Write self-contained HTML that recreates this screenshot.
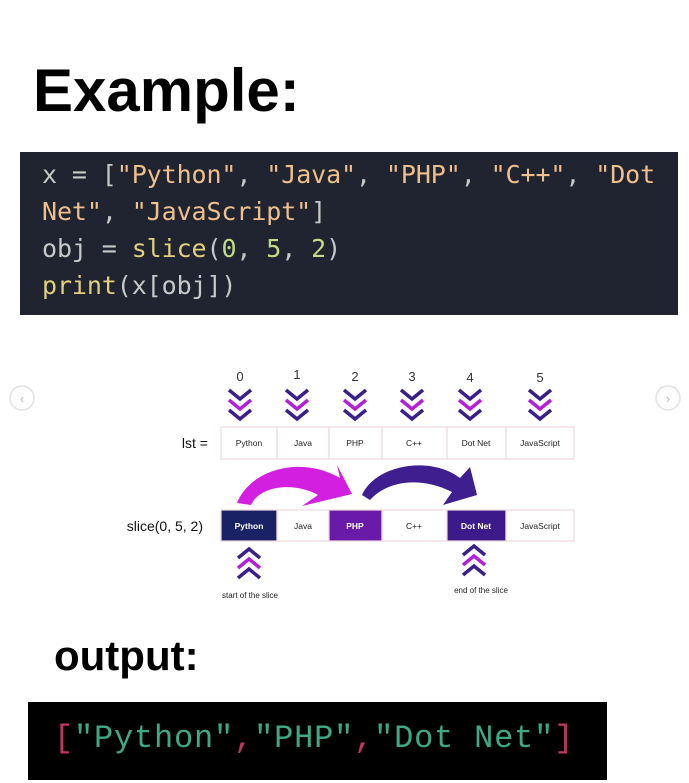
<!DOCTYPE html>
<html><head><meta charset="utf-8"><style>
body{margin:0;width:689px;height:783px;background:#fff;position:relative;overflow:hidden;font-family:"Liberation Sans",sans-serif}
.t1{position:absolute;left:33px;top:56px;font-size:60px;font-weight:bold;line-height:70px;color:#000}
.code{position:absolute;left:20px;top:152px;width:658px;height:163px;background:#1f2430;font-family:"DejaVu Sans Mono",monospace;font-size:25px;color:#d8d8d8}
.code div{position:absolute;left:22px;white-space:pre;line-height:30px;letter-spacing:-0.1px}
.s{color:#f0c08c}.n{color:#c0dd86}.f{color:#e3d07c}.p{color:#c8c8c8}
.t2{position:absolute;left:54px;top:632px;font-size:42px;font-weight:bold;line-height:48px;color:#000}
.out{position:absolute;left:28px;top:702px;width:579px;height:78px;background:#000;font-family:"Liberation Mono",monospace;font-size:32px}
.out div{position:absolute;left:26px;top:18px;white-space:pre;color:#3fa986;letter-spacing:0.8px}
.r{color:#c2355d}
</style></head><body>
<div class="t1">Example:</div>
<div class="code">
<div style="top:8px"><span class="p">x = [</span><span class="s">"Python"</span><span class="p">, </span><span class="s">"Java"</span><span class="p">, </span><span class="s">"PHP"</span><span class="p">, </span><span class="s">"C++"</span><span class="p">, </span><span class="s">"Dot</span></div>
<div style="top:45px"><span class="s">Net"</span><span class="p">, </span><span class="s">"JavaScript"</span><span class="p">]</span></div>
<div style="top:82px"><span class="p">obj = </span><span class="f">slice</span><span class="p">(</span><span class="n">0</span><span class="p">, </span><span class="n">5</span><span class="p">, </span><span class="n">2</span><span class="p">)</span></div>
<div style="top:119px"><span class="f">print</span><span class="p">(x[obj])</span></div>
</div>
<svg style="position:absolute;left:0;top:0" width="689" height="783">
<defs>
<g id="dn"><polyline points="-11,-15 0,-6 11,-15" fill="none" stroke="#3a1f8a" stroke-width="3.5"/><polyline points="-11,-5 0,4 11,-5" fill="none" stroke="#b31fd6" stroke-width="3.5"/><polyline points="-11,5 0,14 11,5" fill="none" stroke="#3a1f8a" stroke-width="3.5"/></g>
<g id="up"><polyline points="-11,15 0,6 11,15" fill="none" stroke="#3a1f8a" stroke-width="3.5"/><polyline points="-11,5 0,-4 11,5" fill="none" stroke="#b31fd6" stroke-width="3.5"/><polyline points="-11,-5 0,-14 11,-5" fill="none" stroke="#3a1f8a" stroke-width="3.5"/></g>
</defs>
<circle cx="22" cy="398" r="12" fill="#fff" stroke="#e2e2e2" stroke-width="1.5"/><text x="22" y="403" font-size="13" fill="#bbb" text-anchor="middle">‹</text>
<circle cx="668" cy="398" r="12" fill="#fff" stroke="#e2e2e2" stroke-width="1.5"/><text x="668" y="403" font-size="13" fill="#bbb" text-anchor="middle">›</text>
<g font-family="Liberation Sans" font-size="13" fill="#333" text-anchor="middle">
<text x="240" y="381">0</text><text x="297" y="379">1</text><text x="355" y="381">2</text><text x="412" y="381">3</text><text x="470" y="382">4</text><text x="540" y="382">5</text></g>
<use href="#dn" x="240" y="405"/><use href="#dn" x="297" y="405"/><use href="#dn" x="355" y="405"/><use href="#dn" x="412" y="405"/><use href="#dn" x="470" y="405"/><use href="#dn" x="540" y="405"/>
<g fill="#fff" stroke="#f0d8dc" stroke-width="1.2">
<rect x="221" y="427" width="56" height="32"/><rect x="277" y="427" width="52" height="32"/><rect x="329" y="427" width="53" height="32"/><rect x="382" y="427" width="65" height="32"/><rect x="447" y="427" width="59" height="32"/><rect x="506" y="427" width="68" height="32"/>
<rect x="221" y="510" width="56" height="31" fill="#1a2266"/><rect x="277" y="510" width="52" height="31"/><rect x="329" y="510" width="53" height="31" fill="#6a1aa8"/><rect x="382" y="510" width="65" height="31"/><rect x="447" y="510" width="59" height="31" fill="#3d1a8a"/><rect x="506" y="510" width="68" height="31"/></g>
<g font-family="Liberation Sans" font-size="8.5" fill="#222" text-anchor="middle">
<text x="249" y="446">Python</text><text x="303" y="446">Java</text><text x="355" y="446">PHP</text><text x="414" y="446">C++</text><text x="476" y="446">Dot Net</text><text x="540" y="446">JavaScript</text>
<text x="249" y="529" fill="#fff" font-weight="bold">Python</text><text x="303" y="529">Java</text><text x="355" y="529" fill="#fff" font-weight="bold">PHP</text><text x="414" y="529">C++</text><text x="476" y="529" fill="#fff" font-weight="bold">Dot Net</text><text x="540" y="529">JavaScript</text></g>
<text x="208" y="448" font-size="14" text-anchor="end" fill="#111">lst =</text>
<text x="203" y="531" font-size="14" text-anchor="end" fill="#111">slice(0, 5, 2)</text>
<path d="M237,503 C250,470 300,455 340,478 L337,465 L352,494 L302,506 L318,495 C295,482 260,485 251,505 Z" fill="#d21fe0"/>
<path d="M362,495 C375,465 430,455 460,478 L470,467 L477,495 L443,505 L452,492 C425,478 390,478 370,500 Z" fill="#3f1e8f"/>
<use href="#up" x="249" y="563"/><use href="#up" x="474" y="560"/>
<text x="250" y="598" font-size="8" text-anchor="middle" fill="#222">start of the slice</text>
<text x="481" y="593" font-size="8" text-anchor="middle" fill="#222">end of the slice</text>
</svg>
<div class="t2">output:</div>
<div class="out"><div><span class="r">[</span>"Python"<span class="r">,</span>"PHP"<span class="r">,</span>"Dot Net"<span class="r">]</span></div></div>
</body></html>
